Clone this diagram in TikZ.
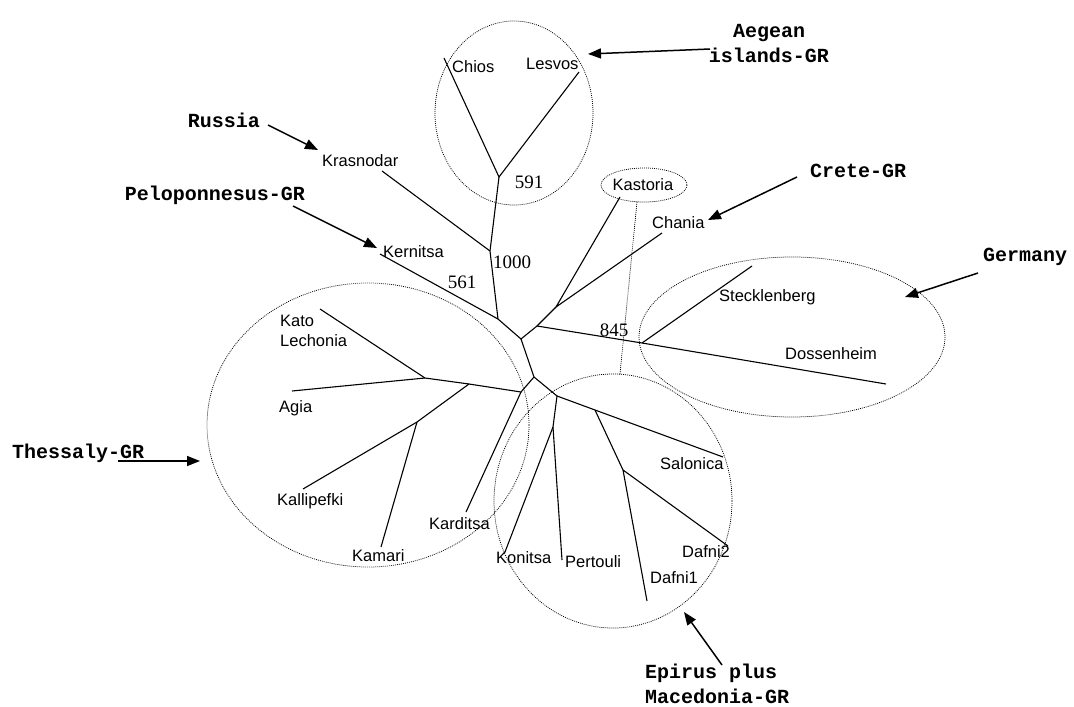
\documentclass[tikz,border=0pt]{standalone}
\usepackage{fontspec}
\setmainfont{Liberation Serif}
\setsansfont{Liberation Sans}
\newfontfamily\groupfont{Liberation Mono}
\usetikzlibrary{arrows.meta, shapes.geometric, positioning, calc}
\tikzset{
    % tree branches
    branch/.style={
        line width=1.1pt,
        black
    },
    % taxon names
    taxon/.style={
        inner sep=0pt,
        anchor=west,
        align=left,
        font=\sffamily\fontsize{16.5}{20}\selectfont
    },
    % bootstrap values
    support/.style={
        inner sep=0pt,
        font=\rmfamily\fontsize{19}{22}\selectfont
    },
    % region labels
    region/.style={
        inner sep=0pt,
        font=\groupfont\bfseries\fontsize{20}{25}\selectfont
    },
    % dotted groups
    clade/.style={
        draw=black,
        line width=0.75pt,
        dash pattern=on 0.9pt off 1.1pt
    },
    pointer/.style={
        -{Triangle[length=13pt,width=10pt]},
        line width=1.5pt,
        black
    }
}

\begin{document}
\begin{tikzpicture}[x=1pt, y=-1pt]
        \useasboundingbox (0,0) rectangle (1074,707);

        % internal nodes
        \coordinate (n591) at (499,177);
        \coordinate (n1000) at (490,251);
        \coordinate (n561) at (498,319);
        \coordinate (ctr) at (521,339);
        \coordinate (n845) at (537,326);
        \coordinate (ncrete) at (556,307);
        \coordinate (ngerm) at (642,343);
        \coordinate (nlow) at (534,377);
        \coordinate (nthes) at (521,392);
        \coordinate (nthes1) at (469,384);
        \coordinate (nthes2) at (425,378);
        \coordinate (nthes3) at (417,422);
        \coordinate (nepir) at (557,396);
        \coordinate (nepir1) at (553,427);
        \coordinate (nepir2) at (595,410);
        \coordinate (nepir3) at (623,470);

        % tips
        \coordinate (chios) at (444,58);
        \coordinate (lesvos) at (579,72);
        \coordinate (krasnodar) at (382,171);
        \coordinate (kernitsa) at (380,254);
        \coordinate (kastoria) at (620,197);
        \coordinate (chania) at (662,233);
        \coordinate (stecklenberg) at (752,266);
        \coordinate (dossenheim) at (886,384);
        \coordinate (katolechonia) at (320,309);
        \coordinate (agia) at (292,391);
        \coordinate (kallipefki) at (303,489);
        \coordinate (kamari) at (381,547);
        \coordinate (karditsa) at (466,512);
        \coordinate (konitsa) at (505,552);
        \coordinate (pertouli) at (562,560);
        \coordinate (salonica) at (723,457);
        \coordinate (dafni1) at (647,601);
        \coordinate (dafni2) at (728,546);

        % branches
        \draw[branch] (chios) -- (n591) -- (lesvos);
        \draw[branch] (n591) -- (n1000) -- (n561) -- (ctr) -- (n845) -- (ncrete);
        \draw[branch] (krasnodar) -- (n1000);
        \draw[branch] (kernitsa) -- (n561);
        \draw[branch] (kastoria) -- (ncrete) -- (chania);
        \draw[branch] (n845) -- (ngerm) -- (dossenheim);
        \draw[branch] (ngerm) -- (stecklenberg);
        \draw[branch] (ctr) -- (nlow) -- (nthes) -- (nthes1) -- (nthes2) -- (katolechonia);
        \draw[branch] (nthes2) -- (agia);
        \draw[branch] (nthes1) -- (nthes3) -- (kallipefki);
        \draw[branch] (nthes3) -- (kamari);
        \draw[branch] (nthes) -- (karditsa);
        \draw[branch] (nlow) -- (nepir) -- (nepir1) -- (pertouli);
        \draw[branch] (nepir1) -- (konitsa);
        \draw[branch] (nepir) -- (nepir2) -- (salonica);
        \draw[branch] (nepir2) -- (nepir3) -- (dafni1);
        \draw[branch] (nepir3) -- (dafni2);

        % taxon names
        \node[taxon] (tchios) at (452,67) {Chios};
        \node[taxon] (tlesvos) at (526,64) {Lesvos};
        \node[taxon] (tkrasnodar) at (322,161) {Krasnodar};
        \node[taxon] (tkernitsa) at (383,252) {Kernitsa};
        \node[taxon, anchor=center] (tkastoria) at (643,185) {Kastoria};
        \node[taxon] (tchania) at (652,223) {Chania};
        \node[taxon] (tstecklenberg) at (719,297) {Stecklenberg};
        \node[taxon] (tdossenheim) at (785,354) {Dossenheim};
        \node[taxon] (tkatolechonia) at (280,331) {Kato\\Lechonia};
        \node[taxon] (tagia) at (279,408) {Agia};
        \node[taxon] (tkallipefki) at (277,501) {Kallipefki};
        \node[taxon] (tkamari) at (352,556) {Kamari};
        \node[taxon] (tkarditsa) at (429,524) {Karditsa};
        \node[taxon] (tkonitsa) at (496,558) {Konitsa};
        \node[taxon] (tpertouli) at (565,562) {Pertouli};
        \node[taxon] (tsalonica) at (660,464) {Salonica};
        \node[taxon] (tdafni2) at (682,552) {Dafni2};
        \node[taxon] (tdafni1) at (650,578) {Dafni1};

        % support values
        \node[support] (s591) at (529,182) {591};
        \node[support] (s1000) at (512,262) {1000};
        \node[support] (s561) at (462,282) {561};
        \node[support] (s845) at (614,330) {845};

        % dotted groups
        \draw[clade] (514,113) ellipse [x radius=79, y radius=92];
        \draw[clade] (644,185) ellipse [x radius=43, y radius=17];
        \draw[clade] (792,337) ellipse [x radius=153, y radius=80];
        \draw[clade] (368,425) ellipse [x radius=161, y radius=142];
        \draw[clade] (613,501) ellipse [x radius=119, y radius=127];
        \coordinate (linktop) at (637,202);
        \coordinate (linkbot) at (620,374);
        \draw[clade] (linktop) -- (linkbot);

        % region labels
        \node[region, align=center] (raegean) at (769,44) {Aegean\\islands-GR};
        \node[region] (rrussia) at (224,120) {Russia};
        \node[region, anchor=east] (rpelop) at (305,195) {Peloponnesus-GR};
        \node[region] (rcrete) at (858,171) {Crete-GR};
        \node[region] (rgermany) at (1025,257) {Germany};
        \node[region, anchor=west] (rthessaly) at (12,453) {Thessaly-GR};
        \node[region, anchor=west, align=left] (repirus) at (645,684) {Epirus plus\\Macedonia-GR};

        % pointers
        \coordinate (paegean) at (710,49);   \coordinate (qaegean) at (588,54);
        \coordinate (prussia) at (268,125);  \coordinate (qrussia) at (318,150);
        \coordinate (ppelop) at (293,206);   \coordinate (qpelop) at (377,248);
        \coordinate (pcrete) at (797,177);   \coordinate (qcrete) at (708,220);
        \coordinate (pgermany) at (978,273); \coordinate (qgermany) at (905,297);
        \coordinate (pthessaly) at (118,461);\coordinate (qthessaly) at (200,461);
        \coordinate (pepirus) at (722,665);  \coordinate (qepirus) at (684,612);
        \draw[pointer] (paegean) -- (qaegean);
        \draw[pointer] (prussia) -- (qrussia);
        \draw[pointer] (ppelop) -- (qpelop);
        \draw[pointer] (pcrete) -- (qcrete);
        \draw[pointer] (pgermany) -- (qgermany);
        \draw[pointer] (pthessaly) -- (qthessaly);
        \draw[pointer] (pepirus) -- (qepirus);
    \end{tikzpicture}
\end{document}
